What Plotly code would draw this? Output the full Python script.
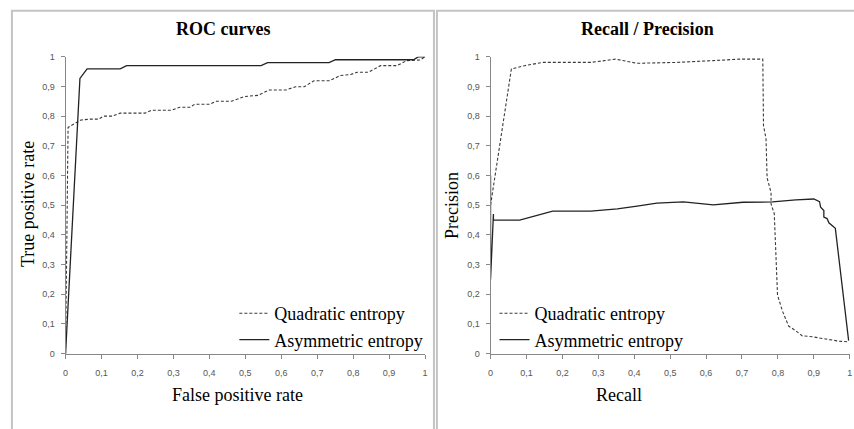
import plotly.graph_objects as go

# ---- data ----
roc_quad_fpr = [0, 0.007, 0.043, 0.069, 0.092, 0.106, 0.129, 0.152, 0.18, 0.221, 0.24, 0.295, 0.318, 0.346,
                0.359, 0.40, 0.419, 0.461, 0.498, 0.535, 0.567, 0.613, 0.64, 0.664, 0.691, 0.733, 0.765,
                0.793, 0.811, 0.843, 0.876, 0.922, 0.949, 0.986, 1.0]
roc_quad_tpr = [0, 0.762, 0.787, 0.79, 0.79, 0.80, 0.80, 0.81, 0.81, 0.81, 0.82, 0.82, 0.83, 0.83,
                0.84, 0.84, 0.85, 0.85, 0.866, 0.87, 0.888, 0.888, 0.899, 0.899, 0.919, 0.919, 0.937,
                0.94, 0.948, 0.948, 0.97, 0.97, 0.987, 0.989, 1.0]

roc_asym_fpr = [0, 0.04, 0.06, 0.152, 0.17, 0.544, 0.562, 0.733, 0.751, 0.968, 0.982, 1.0]
roc_asym_tpr = [0, 0.927, 0.959, 0.959, 0.97, 0.97, 0.98, 0.98, 0.99, 0.99, 1.0, 1.0]

pr_quad_rec = [0, 0.058, 0.095, 0.145, 0.279, 0.348, 0.408, 0.518, 0.62, 0.693, 0.758, 0.76, 0.767,
               0.77, 0.781, 0.781, 0.79, 0.795, 0.799, 0.813, 0.83, 0.85, 0.868, 0.896, 0.914, 0.942,
               0.97, 0.997]
pr_quad_prec = [0.5, 0.959, 0.97, 0.981, 0.981, 0.992, 0.978, 0.981, 0.987, 0.992, 0.992, 0.768, 0.724,
                0.592, 0.543, 0.504, 0.471, 0.296, 0.197, 0.1425, 0.093, 0.077, 0.06, 0.057, 0.053, 0.049,
                0.042, 0.04]

pr_asym_rec = [0, 0, 0.008, 0.008, 0.081, 0.173, 0.279, 0.353, 0.408, 0.463, 0.537, 0.62, 0.703, 0.785,
               0.85, 0.9, 0.916, 0.919, 0.928, 0.928, 0.937, 0.942, 0.96, 0.997]
pr_asym_prec = [0.6, 0.25, 0.47, 0.45, 0.45, 0.48, 0.48, 0.488, 0.497, 0.507, 0.511, 0.501, 0.51, 0.511,
                0.518, 0.521, 0.512, 0.493, 0.482, 0.46, 0.455, 0.441, 0.422, 0.044]

tick_vals = [i / 10 for i in range(11)]

W, H = 854, 429


def px(x):
    return x / W


def py(y):
    return 1 - y / H


DASH = "3px,2px"
C_DASH = "#3a3a3a"
C_SOLID = "#222222"

fig = go.Figure()
fig.add_trace(go.Scatter(x=roc_quad_fpr, y=roc_quad_tpr, mode="lines", name="Quadratic entropy",
                         line=dict(color=C_DASH, width=1.1, dash=DASH), xaxis="x", yaxis="y", legend="legend"))
fig.add_trace(go.Scatter(x=roc_asym_fpr, y=roc_asym_tpr, mode="lines", name="Asymmetric entropy",
                         line=dict(color=C_SOLID, width=1.3), xaxis="x", yaxis="y", legend="legend"))
fig.add_trace(go.Scatter(x=pr_quad_rec, y=pr_quad_prec, mode="lines", name="Quadratic entropy",
                         line=dict(color=C_DASH, width=1.1, dash=DASH), xaxis="x2", yaxis="y2", legend="legend2"))
fig.add_trace(go.Scatter(x=pr_asym_rec, y=pr_asym_prec, mode="lines", name="Asymmetric entropy",
                         line=dict(color=C_SOLID, width=1.3), xaxis="x2", yaxis="y2", legend="legend2"))

tickfont = dict(family="Liberation Sans", size=9, color="#555555")
axis_common = dict(range=[0, 1], tickvals=tick_vals, showgrid=False, zeroline=False, showline=True,
                   linecolor="#888888", linewidth=1, ticks="outside", ticklen=4, tickcolor="#888888",
                   tickfont=tickfont, fixedrange=True)
xaxis_extra = dict(ticklabelstandoff=7)
yaxis_extra = dict(ticklabelstandoff=4)

ydom = [py(357), py(53)]
fig.update_layout(
    width=W, height=H, margin=dict(l=0, r=0, t=0, b=0),
    paper_bgcolor="white", plot_bgcolor="white", separators=",.",
    xaxis=dict(domain=[px(63), px(425)], anchor="y", **axis_common, **xaxis_extra),
    yaxis=dict(domain=ydom, anchor="x", **axis_common, **yaxis_extra),
    xaxis2=dict(domain=[px(491), px(852.7)], anchor="y2", **axis_common, **xaxis_extra),
    yaxis2=dict(domain=ydom, anchor="x2", **axis_common, **yaxis_extra),
    legend=dict(x=px(233), y=py(297), xanchor="left", yanchor="top", bgcolor="rgba(0,0,0,0)",
                font=dict(family="Liberation Serif", size=18, color="#000000"), tracegroupgap=0,
                itemwidth=30),
    legend2=dict(x=px(495), y=py(297), xanchor="left", yanchor="top", bgcolor="rgba(0,0,0,0)",
                 font=dict(family="Liberation Serif", size=18, color="#000000"), tracegroupgap=0,
                 itemwidth=30),
    showlegend=True,
)

serif = "Liberation Serif"
ann = [
    dict(text="<b>ROC curves</b>", x=px(222), y=py(25), size=18, angle=0),
    dict(text="<b>Recall / Precision</b>", x=px(649), y=py(25), size=18, angle=0),
    dict(text="False positive rate", x=px(236), y=py(399), size=18, angle=0),
    dict(text="True positive rate", x=px(25), y=py(204), size=18, angle=-90),
    dict(text="Recall", x=px(620), y=py(399), size=18, angle=0),
    dict(text="Precision", x=px(452), y=py(205), size=18, angle=-90),
]
for a in ann:
    fig.add_annotation(text=a["text"], x=a["x"], y=a["y"], xref="paper", yref="paper",
                       xanchor="center", yanchor="middle", showarrow=False, textangle=a["angle"],
                       font=dict(family=serif, size=a["size"], color="#000000"))

frame = dict(color="#c4c4c4", width=2)
fig.add_shape(type="rect", xref="paper", yref="paper", x0=px(9), x1=px(434), y0=-0.05, y1=py(6),
              line=frame, fillcolor="rgba(0,0,0,0)", layer="below")
fig.add_shape(type="rect", xref="paper", yref="paper", x0=px(437), x1=1.05, y0=-0.05, y1=py(6),
              line=frame, fillcolor="rgba(0,0,0,0)", layer="below")

post = ("document.body.style.margin='0';document.body.style.overflow='hidden';"
        "var d=document.getElementById('{plot_id}');d.style.position='fixed';"
        "d.style.left='0px';d.style.top='0px';")
fig.write_html("out.html", post_script=post, config={"displayModeBar": False})
